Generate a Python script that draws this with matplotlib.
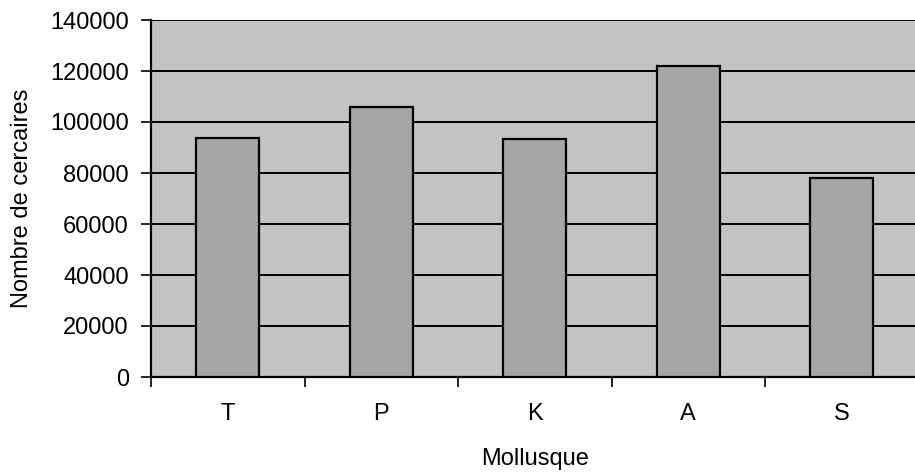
import matplotlib
matplotlib.use("Agg")
import matplotlib.pyplot as plt

plt.rcParams['font.family'] = ['Liberation Sans', 'DejaVu Sans']

# données
mollusques = ['T', 'P', 'K', 'A', 'S']
cercaires = [93900, 105700, 93400, 122000, 77900]
graduations = [0, 20000, 40000, 60000, 80000, 100000, 120000, 140000]

fig = plt.figure(figsize=(9.15, 4.72), dpi=100)
# zone de tracé : x 151 -> ~918 px, y 20 -> 377 px
ax = fig.add_axes([151 / 915, (472 - 377) / 472, 767.5 / 915, 357 / 472])
ax.set_facecolor('#c3c3c3')

x = list(range(len(mollusques)))
ax.bar(x, cercaires, width=0.41, color='#a6a6a6', edgecolor='black',
       linewidth=1.6, zorder=3)

ax.set_xlim(-0.5, len(mollusques) - 0.5)
ax.set_ylim(0, 140000)
ax.set_yticks(graduations)
ax.set_yticklabels([str(g) for g in graduations])
ax.yaxis.grid(True, color='black', linewidth=1.4, zorder=1)
ax.set_axisbelow(True)

ax.set_xticks(x)
ax.set_xticklabels(mollusques)
# petits traits entre les catégories
ax.set_xticks([i - 0.5 for i in range(len(mollusques) + 1)], minor=True)
ax.tick_params(axis='x', which='major', length=0, pad=19, labelsize=17)
ax.tick_params(axis='x', which='minor', length=7, width=1.2, direction='out')
ax.tick_params(axis='y', length=7, width=1.2, pad=9, labelsize=17)

for side in ['top', 'right']:
    ax.spines[side].set_visible(False)
ax.spines['left'].set_linewidth(1.6)
ax.spines['bottom'].set_linewidth(1.6)

ax.set_xlabel('Mollusque', fontsize=17, labelpad=16)
ax.set_ylabel('Nombre de cercaires', fontsize=17, labelpad=12)

fig.savefig('out.png', dpi=100)
